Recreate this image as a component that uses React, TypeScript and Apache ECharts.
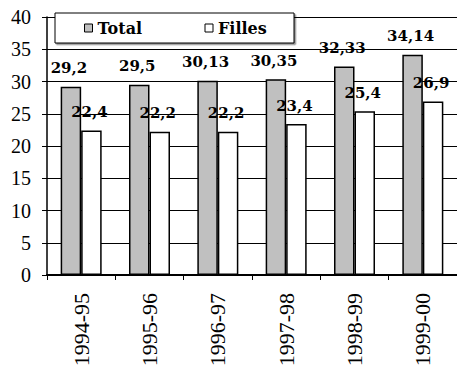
import { useEffect, useRef } from "react";
import * as echarts from "echarts";

// School years on the category axis
const periods = ["1994-95", "1995-96", "1996-97", "1997-98", "1998-99", "1999-00"];
// Series values
const totalValues = [29.2, 29.5, 30.13, 30.35, 32.33, 34.14];
const fillesValues = [22.4, 22.2, 22.2, 23.4, 25.4, 26.9];
const seriesNames = ["Total", "Filles"];

const LABEL_FONT = "DejaVu Serif";
const AXIS_FONT = "Liberation Serif";

const decimalComma = (p: { value: number }) => String(p.value).replace(".", ",");

export default function App() {
  const ref = useRef<HTMLDivElement>(null);

  useEffect(() => {
    if (!ref.current) return;
    const chart = echarts.init(ref.current, null, { renderer: "svg" });

    const barLabel = {
      show: true,
      position: "top",
      distance: 11,
      offset: [-2, 0],
      formatter: decimalComma,
      color: "#000",
      fontFamily: LABEL_FONT,
      fontWeight: "bold",
      fontSize: 15,
    };

    chart.setOption({
      animation: false,
      backgroundColor: "#fff",
      textStyle: { fontFamily: AXIS_FONT },
      grid: { left: 47, top: 17, right: -5, bottom: 97, containLabel: false },
      legend: {
        data: seriesNames,
        left: 55,
        top: 13,
        orient: "horizontal",
        padding: [7, 16, 7, 29],
        itemGap: 47,
        itemWidth: 8,
        itemHeight: 8,
        icon: "rect",
        backgroundColor: "#fff",
        borderColor: "#000",
        borderWidth: 1,
        borderRadius: 0,
        shadowColor: "rgba(0,0,0,0.45)",
        shadowBlur: 0,
        shadowOffsetX: 1.5,
        shadowOffsetY: 1.5,
        itemStyle: { borderColor: "#000", borderWidth: 1 },
        textStyle: {
          color: "#000",
          fontFamily: LABEL_FONT,
          fontWeight: "bold",
          fontSize: 16,
          lineHeight: 16,
          width: 60,
          overflow: "none",
        },
      },
      xAxis: {
        type: "category",
        data: periods,
        boundaryGap: true,
        axisLine: { show: true, lineStyle: { color: "#000", width: 2 } },
        axisTick: { show: true, length: 5, lineStyle: { color: "#000", width: 1 } },
        axisLabel: {
          rotate: 90,
          margin: 18,
          color: "#000",
          fontFamily: AXIS_FONT,
          fontWeight: "normal",
          fontSize: 22,
          interval: 0,
        },
        splitLine: { show: false },
      },
      yAxis: {
        type: "value",
        min: 0,
        max: 40,
        interval: 5,
        axisLine: { show: true, lineStyle: { color: "#000", width: 1.5 } },
        axisTick: { show: true, length: 5, lineStyle: { color: "#000", width: 1 } },
        axisLabel: {
          margin: 16,
          color: "#000",
          fontFamily: AXIS_FONT,
          fontWeight: "normal",
          fontSize: 20,
        },
        splitLine: { show: true, lineStyle: { color: "#000", width: 1 } },
      },
      series: [
        {
          name: seriesNames[0],
          type: "bar",
          data: totalValues,
          barWidth: 20.5,
          barGap: "0%",
          itemStyle: { color: "#c0c0c0", borderColor: "#000", borderWidth: 1.5 },
          label: barLabel,
        },
        {
          name: seriesNames[1],
          type: "bar",
          data: fillesValues,
          barWidth: 20.5,
          barGap: "0%",
          itemStyle: { color: "#fff", borderColor: "#000", borderWidth: 1.5 },
          label: barLabel,
        },
      ],
    });

    return () => chart.dispose();
  }, []);

  return (
    <div
      ref={ref}
      style={{ position: "fixed", left: 0, top: 0, width: 457, height: 372, background: "#fff" }}
    />
  );
}
